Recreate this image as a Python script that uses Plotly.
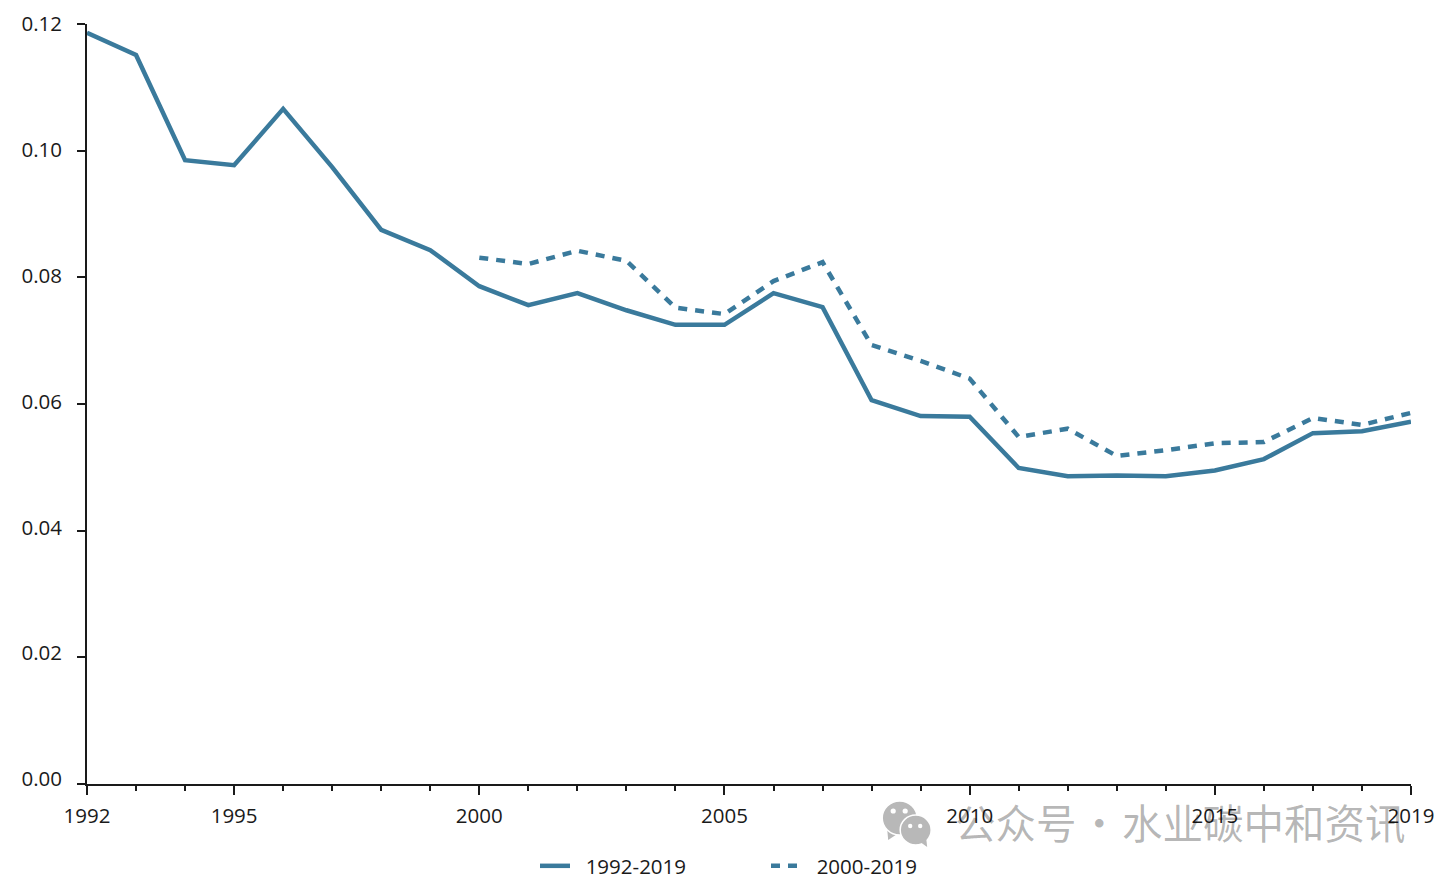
import plotly.graph_objects as go

years_a = list(range(1992, 2020))
series_a = [.1186,.1151,.0985,.0977,.1066,.0974,.0875,.0843,.0786,.0756,.0775,.0748,.0725,.0725,
            .0775,.0753,.0606,.0581,.0580,.0499,.0486,.0487,.0486,.0495,.0513,.0554,.0557,.0572]
years_b = list(range(2000, 2020))
series_b = [.0831,.0821,.0842,.0826,.0752,.0742,.0794,.0824,.0693,.0668,.0640,.0548,.0561,.0518,
            .0527,.0538,.0540,.0578,.0567,.0586]
x_ticks = [1992, 1995, 2000, 2005, 2010, 2015, 2019]
y_ticks = [0, .02, .04, .06, .08, .10, .12]
y_labels = ["0.00", "0.02", "0.04", "0.06", "0.08", "0.10", "0.12"]
names = ["1992-2019", "2000-2019"]
watermark = "公众号\u200a·\u200a水业碳中和资讯"

COLOR = "#3a7a9c"
INK = "#1a1a1a"
FONT = "Open Sans"
PAGE = 8  # default page margin around the figure
W, H = 1450 - PAGE, 883 - PAGE
L, R, T, B = 86.5 - PAGE, 39, 24 - PAGE, 99
px = lambda v: (v - PAGE - L) / (W - L - R)
py = lambda v: (H - B - (v - PAGE)) / (H - T - B)
GAP = "\u00a0\u00a0"

fig = go.Figure()
fig.add_trace(go.Scatter(x=years_a, y=series_a, name=GAP + names[0], mode="lines",
                         line=dict(color=COLOR, width=4.5), cliponaxis=False))
fig.add_trace(go.Scatter(x=years_b, y=series_b, name=GAP + names[1], mode="lines",
                         line=dict(color=COLOR, width=4.5, dash="9px,8px"), cliponaxis=False))
# carries the label-only axis, whose labels sit slightly above the ticks toward the bottom
fig.add_trace(go.Scatter(x=[1992], y=[0], yaxis="y2", mode="lines", showlegend=False,
                         hoverinfo="skip", line=dict(color="rgba(0,0,0,0)")))

GREY = "#b8b8b8"
def tail(points):
    d = "M" + " L".join(f"{px(a):.5f},{py(b):.5f}" for a, b in points) + " Z"
    return dict(type="path", path=d, xref="paper", yref="paper", layer="below",
                fillcolor=GREY, line=dict(width=0))

shapes = [tail([(887, 829), (888, 840), (897, 834)])]
for cx, cy, rx, ry in [(899.5, 818, 17.5, 17), (915.5, 830, 15.5, 15)]:
    shapes.append(dict(type="circle", xref="paper", yref="paper", layer="below",
                       x0=px(cx-rx), x1=px(cx+rx), y0=py(cy+ry), y1=py(cy-ry),
                       fillcolor=GREY, line=dict(color="white", width=1.5)))
shapes.append(tail([(920, 842), (927, 847), (926, 838)]))
for cx, cy, r in [(893, 811, 2.6), (905, 811, 2.6), (910, 826, 2.2), (920, 826, 2.2)]:
    shapes.append(dict(type="circle", xref="paper", yref="paper", layer="below",
                       x0=px(cx-r), x1=px(cx+r), y0=py(cy+r), y1=py(cy-r),
                       fillcolor="white", line=dict(width=0)))

fig.update_layout(
    width=W, height=H, paper_bgcolor="white", plot_bgcolor="white",
    margin=dict(l=L, r=R, t=T, b=B, pad=0, autoexpand=False),
    font=dict(family=FONT, size=20.5, color=INK),
    showlegend=True,
    legend=dict(orientation="h", xref="container", yref="container",
                x=(535 - PAGE) / W, xanchor="left", y=(H - (866 - PAGE)) / H, yanchor="middle",
                font=dict(family=FONT, size=20.5, color=INK), bgcolor="rgba(0,0,0,0)",
                entrywidth=186, entrywidthmode="pixels", itemwidth=30),
    xaxis=dict(range=[1992, 2019], tickmode="array", tickvals=x_ticks, ticktext=[str(v) for v in x_ticks],
               ticks="outside", ticklen=9, tickwidth=1.5, tickcolor=INK, showgrid=False, zeroline=False,
               showline=True, linecolor=INK, linewidth=1.5, ticklabelstandoff=4,
               tickfont=dict(family=FONT, size=20.5, color=INK),
               minor=dict(tickmode="array", tickvals=years_a, ticks="outside", ticklen=5, tickwidth=1.5,
                          tickcolor=INK, showgrid=False)),
    yaxis=dict(range=[0, .12], tickmode="array", tickvals=y_ticks, ticktext=[""] * len(y_ticks),
               ticks="outside", ticklen=8, tickwidth=1.5, tickcolor=INK, showgrid=False, zeroline=False,
               showline=True, linecolor=INK, linewidth=1.5),
    yaxis2=dict(overlaying="y", side="left", range=[-.000795, .12], tickmode="array",
                tickvals=y_ticks, ticktext=y_labels, ticks="", showline=False, showgrid=False,
                zeroline=False, ticklabelstandoff=24,
                tickfont=dict(family=FONT, size=20.5, color=INK)),
    shapes=shapes,
    annotations=[dict(text=watermark, xref="paper", yref="paper", x=px(953), y=py(821),
                      xanchor="left", yanchor="middle", showarrow=False,
                      font=dict(family="Noto Sans CJK SC", size=40.5, color="rgba(0,0,0,0.29)"))],
)
fig.write_html("out.html")
